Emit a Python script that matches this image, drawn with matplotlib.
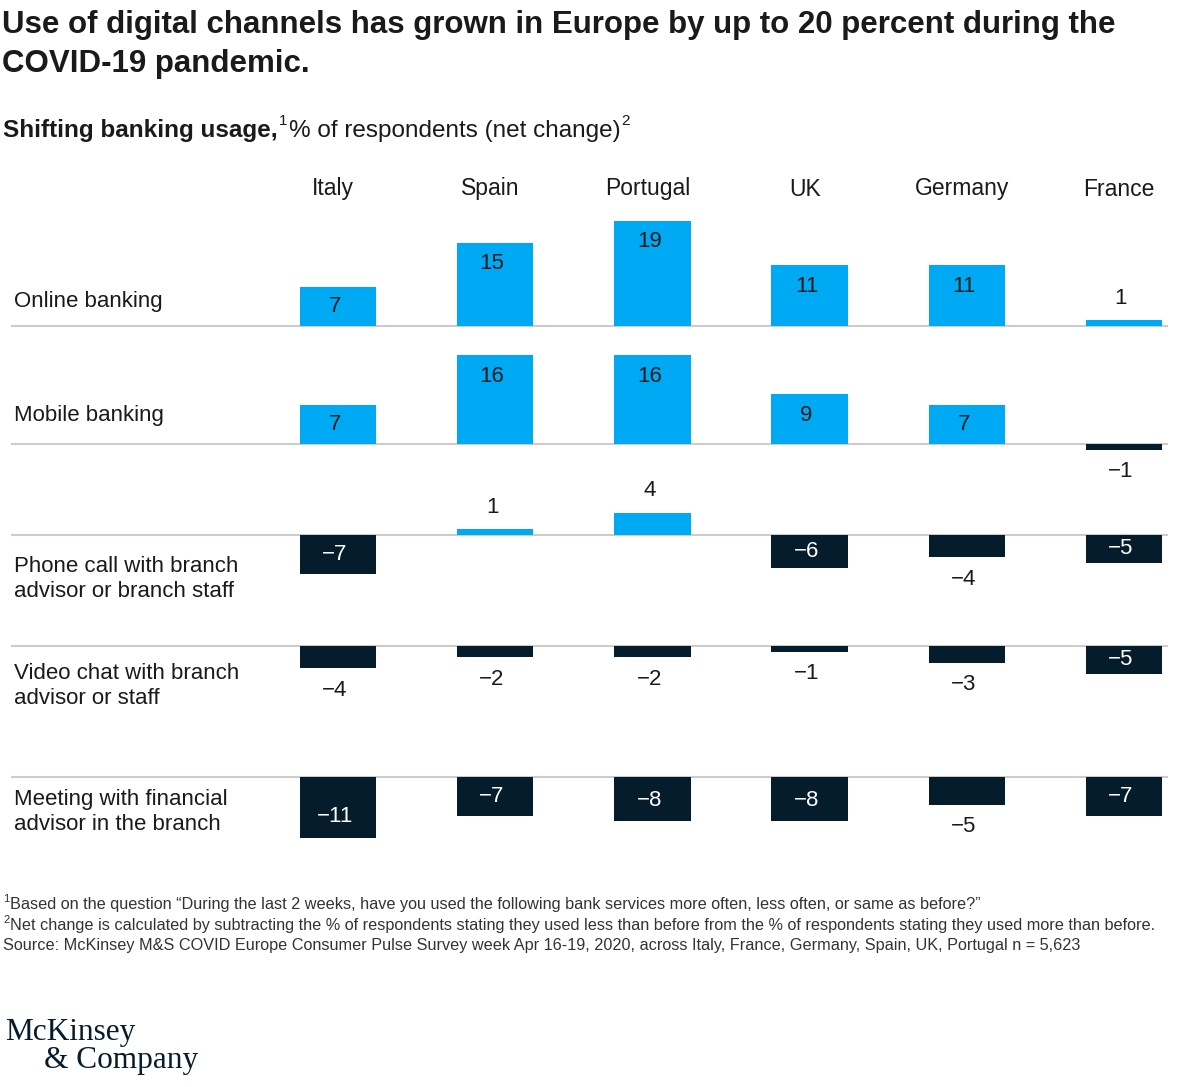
import numpy as np
import matplotlib
matplotlib.use("Agg")
import matplotlib.pyplot as plt
from matplotlib.transforms import blended_transform_factory

plt.rcParams['font.family'] = ['Liberation Sans', 'DejaVu Sans']

# data
countries = ["Italy", "Spain", "Portugal", "UK", "Germany", "France"]
channels = ["Online banking", "Mobile banking",
            "Phone call with branch\nadvisor or branch staff",
            "Video chat with branch\nadvisor or staff",
            "Meeting with financial\nadvisor in the branch"]
online = [7, 15, 19, 11, 11, 1]
mobile = [7, 16, 16, 9, 7, -1]
phone = [-7, 1, 4, -6, -4, -5]
video = [-4, -2, -2, -1, -3, -5]
meeting = [-11, -7, -8, -8, -5, -7]
rows = [online, mobile, phone, video, meeting]
# cells whose label sits outside the bar although the bar is large
outside_labels = {(4, "Germany")}

BLUE = "#00a9f4"
NAVY = "#051c2c"
GRID = "#cccccc"
INK = "#1a1a1a"

W, H = 1200, 1087
fig = plt.figure(figsize=(W / 100, H / 100), dpi=100)

# overlay axes in pixel coordinates for the layout text
bg = fig.add_axes([0, 0, 1, 1])
bg.set_xlim(0, W)
bg.set_ylim(H, 0)
bg.axis('off')


def right_edge(t):
    # right end of a text, in pixel coordinates of bg
    fig.canvas.draw()
    bb = t.get_window_extent()
    return bg.transData.inverted().transform((bb.x1, bb.y0))[0]


# title and subtitle
bg.text(2, 25, "Use of digital channels has grown in Europe by up to 20 percent during the",
        fontsize=22.5, fontweight='bold', va='center', color=INK)
bg.text(2, 64, "COVID-19 pandemic.", fontsize=22.5, fontweight='bold', va='center', color=INK)

t1 = bg.text(3, 137, "Shifting banking usage,", fontsize=17.5, fontweight='bold',
             va='baseline', color=INK)
x = right_edge(t1)
bg.text(x + 1, 125, "1", fontsize=11, va='baseline', color=INK)
t3 = bg.text(x + 11, 137, "% of respondents (net change)", fontsize=17.5,
             va='baseline', color=INK)
x = right_edge(t3)
bg.text(x + 1, 125, "2", fontsize=11, va='baseline', color=INK)

# rows of bars, same scale in every row
unit = 5.55                       # pixels per percentage point
baselines = [326, 444, 535, 646, 777]
label_y = [302, 416, 579, 686, 812]
x_left, x_right = 11, 1168
c0, step = 338, 157.2
lo, hi = -12, 20

for r, vals in enumerate(rows):
    b = baselines[r]
    bottom = 1 - (b - lo * unit) / H
    height = (hi - lo) * unit / H
    ax = fig.add_axes([x_left / W, bottom, (x_right - x_left) / W, height])
    ax.set_xlim((x_left - c0) / step, (x_right - c0) / step)
    ax.set_ylim(lo, hi)
    ax.patch.set_alpha(0)
    ax.axis('off')
    ax.axhline(0, color=GRID, lw=1.5, zorder=1)
    for i, v in enumerate(vals):
        sign = 1 if v > 0 else -1
        ax.bar(i, v, width=0.485, color=BLUE if v > 0 else NAVY, zorder=2)
        lab = str(v).replace("-", "\u2212")
        inside = abs(v) >= 5 and (r, countries[i]) not in outside_labels
        if inside:
            y = v - sign * min(3.8, abs(v) / 2)
            ax.text(i - 0.02, y, lab, ha='center', va='center', fontsize=16,
                    color=INK if v > 0 else 'white', zorder=3)
        else:
            ax.annotate(lab, (i - 0.02, v), xytext=(0, sign * 16), textcoords='offset points',
                        ha='center', va='center', fontsize=16, color=INK)
    bg.text(14, label_y[r], channels[r], fontsize=16, va='center', ha='left',
            color=INK, linespacing=1.3)
    if r == 0:
        tr = blended_transform_factory(ax.transData, bg.transData)
        for i, c in enumerate(countries):
            ax.text(i - 0.03, 189, c, transform=tr, ha='center', va='center',
                    fontsize=16.5, color=INK)

# footnotes
notes = [("1", "Based on the question \u201cDuring the last 2 weeks, have you used the following bank services more often, less often, or same as before?\u201d"),
         ("2", "Net change is calculated by subtracting the % of respondents stating they used less than before from the % of respondents stating they used more than before."),
         ("", "Source: McKinsey M&S COVID Europe Consumer Pulse Survey week Apr 16-19, 2020, across Italy, France, Germany, Spain, UK, Portugal n = 5,623")]
for k, (sup, txt) in enumerate(notes):
    y = 909 + k * 20.7
    if sup:
        s = bg.text(3, y - 7, sup, fontsize=8, va='baseline', color='#333333')
        x = right_edge(s)
        bg.text(x + 0.5, y, txt, fontsize=11.7, va='baseline', color='#333333')
    else:
        bg.text(3, y, txt, fontsize=11.7, va='baseline', color='#333333')

# logo
bg.text(5, 1040, "McKinsey", fontsize=22.5, family='Liberation Serif', color=NAVY, va='baseline')
bg.text(44, 1068, "& Company", fontsize=22.5, family='Liberation Serif', color=NAVY, va='baseline')

fig.savefig("out.png", dpi=100)
